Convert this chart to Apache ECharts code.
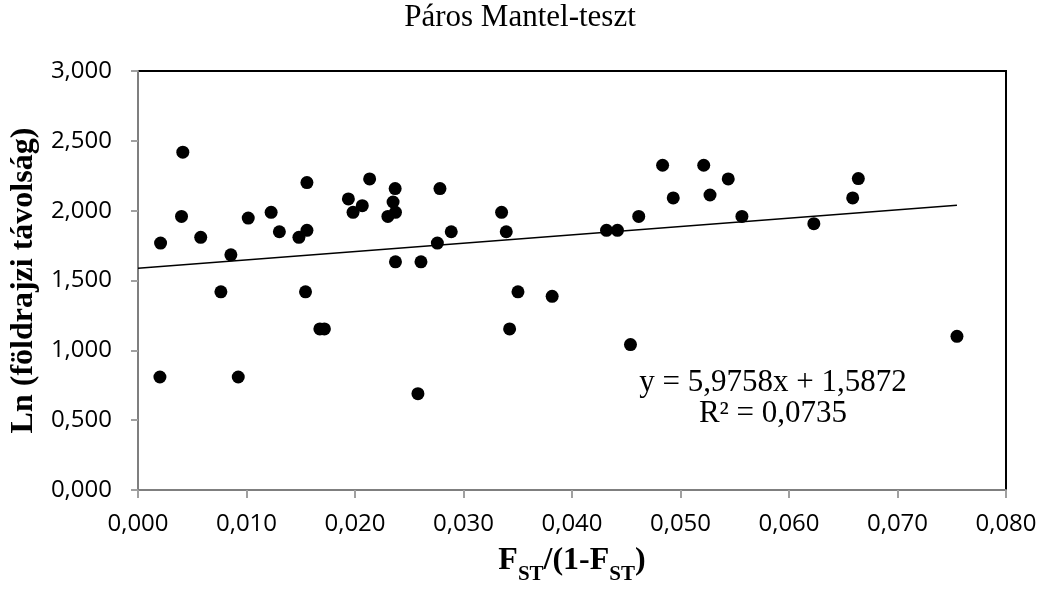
<!DOCTYPE html>
<html lang="hu">
<head>
<meta charset="UTF-8">
<title>Páros Mantel-teszt</title>
<script src="https://cdn.jsdelivr.net/npm/echarts@6/dist/echarts.min.js"></script>
<style>
  html, body { margin: 0; padding: 0; background: #fff; }
  #chart { width: 1040px; height: 590px; }
</style>
</head>
<body>
<div id="chart"></div>
<script>
// FST/(1-FST) values
var fst = [
  0.00202, 0.00208, 0.00401, 0.00413, 0.00578, 0.00764, 0.00856, 0.00924, 0.01016, 0.01227,
  0.01303, 0.01483, 0.01544, 0.01557, 0.01557, 0.01676, 0.01718, 0.01939, 0.01982, 0.02067,
  0.02135, 0.02303, 0.02351, 0.0237, 0.02373, 0.02373, 0.0258, 0.02608, 0.02759, 0.02783,
  0.02887, 0.03351, 0.03394, 0.03425, 0.03502, 0.03817, 0.04318, 0.04419, 0.04539, 0.04615,
  0.04835, 0.04933, 0.05214, 0.05272, 0.0544, 0.05566, 0.06229, 0.06587, 0.06639, 0.07548
];
// Ln (földrajzi távolság)
var lnDist = [
  0.809, 1.768, 1.959, 2.419, 1.809, 1.419, 1.684, 0.809, 1.947, 1.988,
  1.849, 1.809, 1.419, 1.859, 2.201, 1.153, 1.153, 2.084, 1.988, 2.036,
  2.227, 1.959, 2.062, 2.158, 1.988, 1.634, 0.690, 1.634, 1.768, 2.158,
  1.849, 1.988, 1.849, 1.153, 1.419, 1.387, 1.859, 1.859, 1.041, 1.959,
  2.325, 2.091, 2.325, 2.112, 2.227, 1.959, 1.907, 2.091, 2.230, 1.100
];
// linear trend shown on the chart
var slope = 5.9758, intercept = 1.5872, r2 = 0.0735;

var points = fst.map(function (x, i) { return [x, lnDist[i]]; });
var xEnd = Math.max.apply(null, fst);
var trend = [[0, intercept], [xEnd, slope * xEnd + intercept]];

function hu(v, d) { return v.toFixed(d).replace('.', ','); }

var serif = 'Liberation Serif';
var sans = 'Open Sans';

var chart = echarts.init(document.getElementById('chart'));
chart.setOption({
  backgroundColor: '#fff',
  animation: false,
  title: {
    text: 'Páros Mantel-teszt',
    left: 'center',
    top: 2,
    padding: 0,
    textStyle: { fontFamily: serif, fontSize: 31, fontWeight: 'normal', color: '#000' }
  },
  grid: {
    left: 134, right: 34, top: 71, bottom: 100,
    show: true, borderColor: '#000', borderWidth: 2, backgroundColor: '#fff'
  },
  xAxis: {
    type: 'value',
    min: 0, max: 0.08, interval: 0.01,
    splitLine: { show: false },
    axisLine: { onZero: false, lineStyle: { color: '#7f7f7f', width: 2 } },
    axisTick: { length: 8, lineStyle: { color: '#a0a0a0', width: 2 } },
    axisLabel: {
      margin: 22, fontFamily: sans, fontSize: 24, color: '#000',
      formatter: function (v) { return hu(v, 3); }
    },
    name: '{m|F}{s|ST}{m|/(1-F}{s|ST}{m|)}',
    nameLocation: 'middle',
    nameGap: 55,
    nameTextStyle: {
      rich: {
        m: { fontFamily: serif, fontSize: 32, fontWeight: 'bold', color: '#000', lineHeight: 36, verticalAlign: 'top' },
        s: { fontFamily: serif, fontSize: 21, fontWeight: 'bold', color: '#000', lineHeight: 21, verticalAlign: 'top', padding: [19, 0, 0, 0] }
      }
    }
  },
  yAxis: {
    type: 'value',
    min: 0, max: 3, interval: 0.5,
    splitLine: { show: false },
    axisLine: { onZero: false, lineStyle: { color: '#7f7f7f', width: 2 } },
    axisTick: { length: 7, lineStyle: { color: '#a0a0a0', width: 2 } },
    axisLabel: {
      margin: 26, fontFamily: sans, fontSize: 24, color: '#000',
      formatter: function (v) { return hu(v, 3); }
    },
    name: 'Ln (földrajzi távolság)',
    nameLocation: 'middle',
    nameGap: 90,
    nameTextStyle: { fontFamily: serif, fontSize: 32, fontWeight: 'bold', color: '#000' }
  },
  graphic: [
    {
      type: 'text', x: 773, y: 367,
      style: {
        text: 'y = ' + hu(slope, 4) + 'x + ' + hu(intercept, 4) + '\nR² = ' + hu(r2, 4),
        align: 'center', verticalAlign: 'top',
        fontFamily: serif, fontSize: 31, lineHeight: 31, fill: '#000'
      }
    }
  ],
  series: [
    {
      type: 'line',
      data: trend,
      symbol: 'none',
      lineStyle: { color: '#000', width: 1.5 },
      silent: true,
      z: 1
    },
    {
      type: 'scatter',
      data: points,
      symbol: 'circle',
      symbolSize: 13,
      itemStyle: { color: '#000', opacity: 1 },
      z: 2
    }
  ]
});
</script>
</body>
</html>
